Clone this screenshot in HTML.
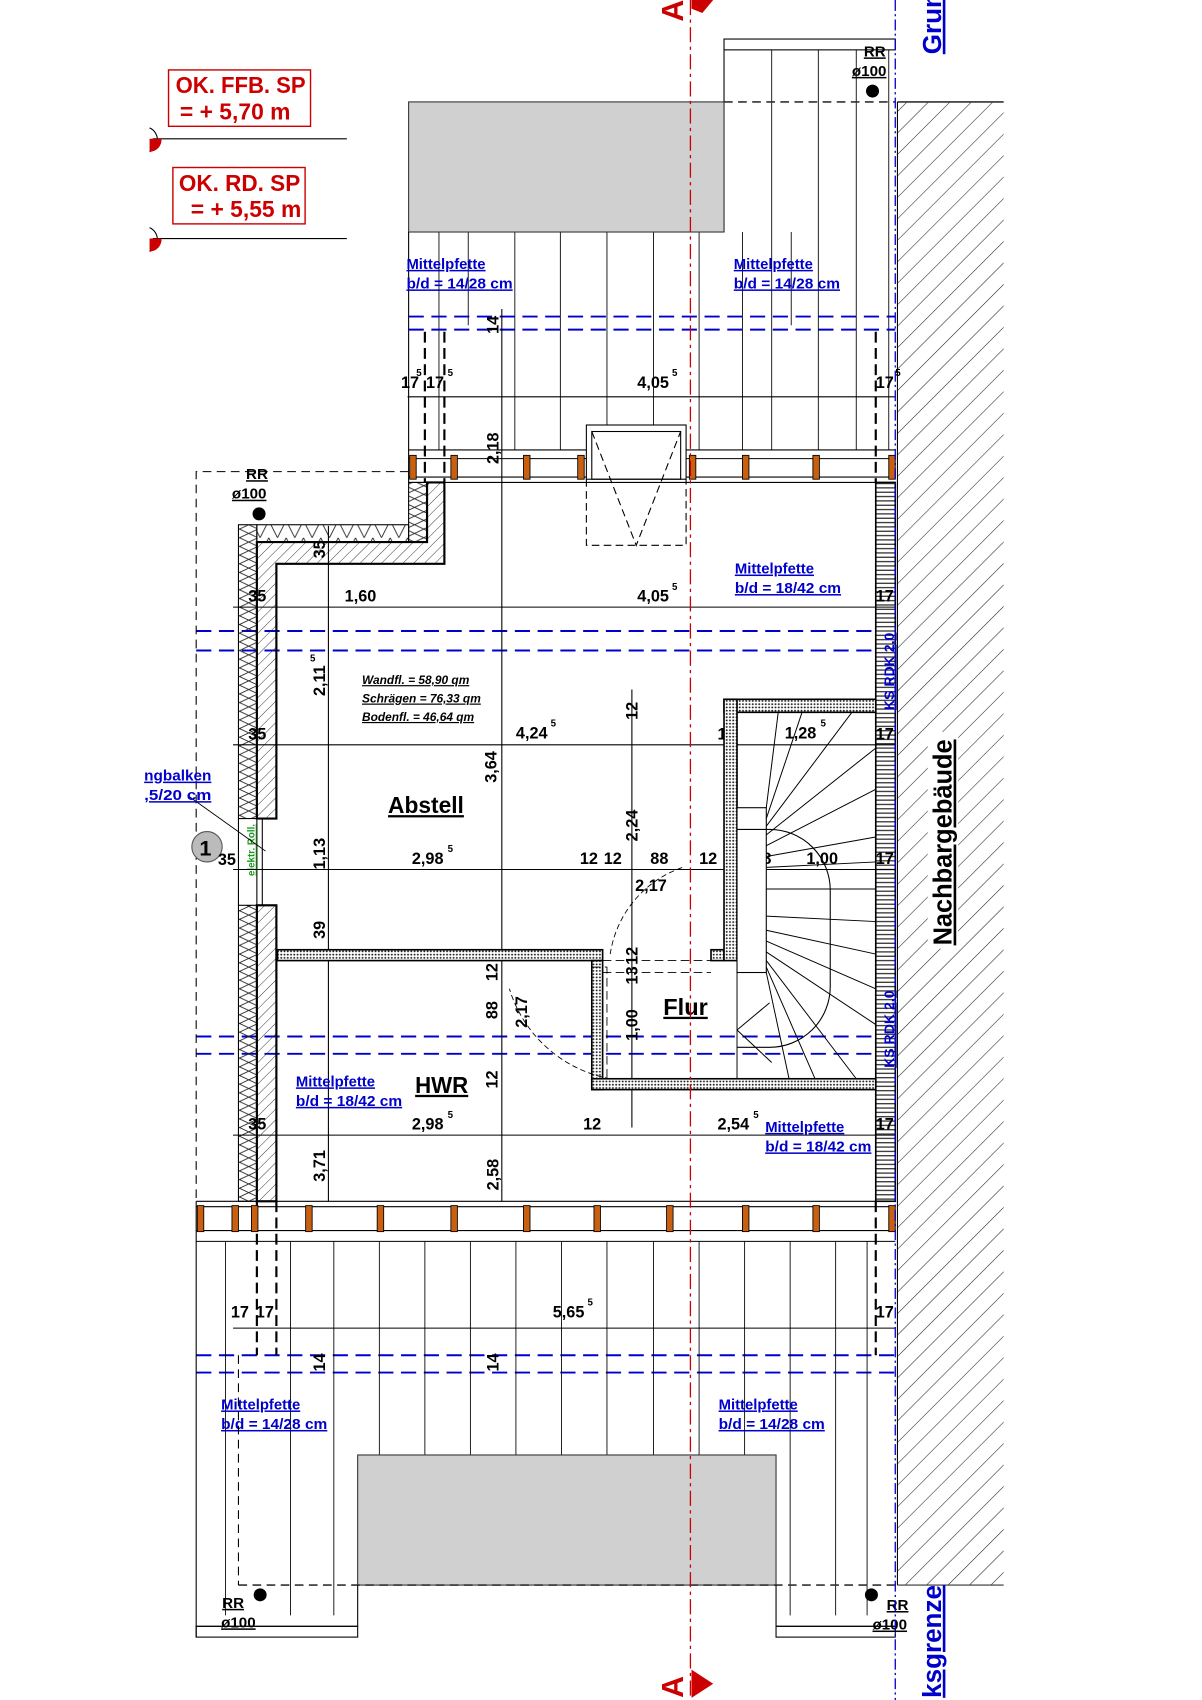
<!DOCTYPE html>
<html><head><meta charset="utf-8"><style>
html,body{margin:0;padding:0;background:#fff;}
svg{display:block}
text{font-family:"Liberation Sans Narrow","Liberation Sans",sans-serif;font-weight:bold;}
.d{font-size:15px;fill:#000}
.s{font-size:9px;fill:#000}
.b{font-size:14px;fill:#0000cc;text-decoration:underline}
</style></head><body>
<svg width="1202" height="1700" viewBox="0 0 1109 1568" preserveAspectRatio="none" xmlns="http://www.w3.org/2000/svg">
<defs>
<pattern id="h" width="14" height="14" patternUnits="userSpaceOnUse" patternTransform="rotate(45)"><line x1="0" y1="0" x2="0" y2="14" stroke="#222" stroke-width="1"/></pattern>
<pattern id="h2" width="7" height="7" patternUnits="userSpaceOnUse" patternTransform="rotate(45)"><line x1="0" y1="0" x2="0" y2="7" stroke="#222" stroke-width="0.8"/></pattern>
<pattern id="z" width="17" height="16" patternUnits="userSpaceOnUse"><path d="M0 0 L17 8 L0 16 M17 0 L0 8 L17 16" fill="none" stroke="#222" stroke-width="0.8"/></pattern>
<pattern id="zz" width="16" height="16" patternUnits="userSpaceOnUse"><path d="M0 16 L8 0 L16 16" fill="none" stroke="#222" stroke-width="0.8"/></pattern>
<pattern id="st" width="3" height="3" patternUnits="userSpaceOnUse"><rect width="3" height="3" fill="#fff"/><circle cx="1.5" cy="1.5" r="0.9" fill="#222"/></pattern>
<pattern id="lad" width="4" height="4" patternUnits="userSpaceOnUse"><rect width="4" height="4" fill="#fff"/><line x1="0" y1="2" x2="4" y2="2" stroke="#222" stroke-width="1.1"/></pattern>
</defs>
<rect width="1109" height="1568" fill="#fff"/>

<rect x="828" y="94" width="98" height="1368" fill="url(#h)"/>
<line x1="828" y1="94" x2="926" y2="94" stroke="#333" stroke-width="1.5"/>
<line x1="828" y1="1462" x2="926" y2="1462" stroke="#333" stroke-width="1"/>
<rect x="856" y="675" width="28" height="200" fill="#fff"/>
<text transform="translate(878,872) rotate(-90)" style="font-size:24px;text-decoration:underline" textLength="190" lengthAdjust="spacingAndGlyphs">Nachbargebäude</text>

<rect x="155.5" y="64.5" width="131" height="52" fill="none" stroke="#c00" stroke-width="1.3"/>
<text x="162" y="86" style="font-size:21px;fill:#c00" textLength="120" lengthAdjust="spacingAndGlyphs">OK. FFB. SP</text>
<text x="166" y="110" style="font-size:21px;fill:#c00" textLength="102" lengthAdjust="spacingAndGlyphs">= + 5,70 m</text>
<line x1="141" y1="128" x2="320" y2="128" stroke="#000"/>
<path d="M138 118 A12 12 0 0 1 138 140" fill="none" stroke="#000"/>
<path d="M138 128 L149 128 A11 11 0 0 1 138 140 Z" fill="#c00"/>
<rect x="159.5" y="154.5" width="122" height="52" fill="none" stroke="#c00" stroke-width="1.3"/>
<text x="165" y="176" style="font-size:21px;fill:#c00" textLength="112" lengthAdjust="spacingAndGlyphs">OK. RD. SP</text>
<text x="176" y="200" style="font-size:21px;fill:#c00" textLength="102" lengthAdjust="spacingAndGlyphs">= + 5,55 m</text>
<line x1="141" y1="220" x2="320" y2="220" stroke="#000"/>
<path d="M138 210 A12 12 0 0 1 138 232" fill="none" stroke="#000"/>
<path d="M138 220 L149 220 A11 11 0 0 1 138 232 Z" fill="#c00"/>

<rect x="668" y="36" width="158" height="10" fill="none" stroke="#000"/>
<line x1="668" y1="46" x2="668" y2="214" stroke="#000"/>
<g stroke="#000" stroke-width="0.8">
<line x1="712" y1="46" x2="712" y2="415"/><line x1="755" y1="46" x2="755" y2="415"/><line x1="790" y1="46" x2="790" y2="415"/><line x1="820" y1="46" x2="820" y2="415"/>
<line x1="405" y1="214" x2="405" y2="415"/><line x1="432" y1="214" x2="432" y2="300"/><line x1="475" y1="214" x2="475" y2="415"/><line x1="517" y1="214" x2="517" y2="415"/>
<line x1="560" y1="214" x2="560" y2="392"/><line x1="603" y1="214" x2="603" y2="392"/><line x1="645" y1="214" x2="645" y2="415"/><line x1="685" y1="214" x2="685" y2="415"/>
<line x1="730" y1="214" x2="730" y2="300"/>
</g>
<rect x="377" y="94" width="291" height="120" fill="#d0d0d0" stroke="#333"/>
<line x1="668" y1="94" x2="826" y2="94" stroke="#333" stroke-width="1.5" stroke-dasharray="8,5"/>
<line x1="377" y1="214" x2="377" y2="445" stroke="#000"/>
<circle cx="805" cy="84" r="6" fill="#000"/>
<text x="797" y="52" class="d" style="font-size:14px;text-decoration:underline">RR</text>
<text x="786" y="70" class="d" style="font-size:14px;text-decoration:underline">ø100</text>

<text x="375" y="248" class="b" textLength="73" lengthAdjust="spacingAndGlyphs">Mittelpfette</text><text x="375" y="266" class="b" textLength="98" lengthAdjust="spacingAndGlyphs">b/d = 14/28 cm</text>
<text x="677" y="248" class="b" textLength="73" lengthAdjust="spacingAndGlyphs">Mittelpfette</text><text x="677" y="266" class="b" textLength="98" lengthAdjust="spacingAndGlyphs">b/d = 14/28 cm</text>
<g stroke="#0000cc" stroke-width="1.8" stroke-dasharray="14,7">
<line x1="377" y1="292" x2="826" y2="292"/><line x1="377" y1="304" x2="826" y2="304"/>
<line x1="181" y1="582" x2="826" y2="582"/><line x1="181" y1="600" x2="826" y2="600"/>
<line x1="181" y1="956" x2="826" y2="956"/><line x1="181" y1="972" x2="826" y2="972"/>
<line x1="181" y1="1250" x2="826" y2="1250"/><line x1="181" y1="1266" x2="826" y2="1266"/>
</g>
<g stroke="#000" stroke-width="2" stroke-dasharray="10,5">
<line x1="392" y1="306" x2="392" y2="445"/><line x1="410" y1="306" x2="410" y2="445"/><line x1="808" y1="306" x2="808" y2="445"/>
<line x1="237" y1="1108" x2="237" y2="1250"/><line x1="255" y1="1108" x2="255" y2="1250"/><line x1="808" y1="1108" x2="808" y2="1250"/>
</g>
<line x1="376" y1="366" x2="826" y2="366" stroke="#000"/>
<text x="370" y="358" class="d">17</text><text x="393" y="358" class="d">17</text><text x="588" y="358" class="d">4,05</text><text x="620" y="347" class="s">5</text><text x="808" y="358" class="d">17</text>
<text x="384" y="347" class="s">5</text><text x="413" y="347" class="s">5</text><text x="826" y="347" class="s">5</text>
<line x1="463" y1="285" x2="463" y2="1108" stroke="#000"/>
<text transform="translate(460,308) rotate(-90)" class="d">14</text>
<text transform="translate(460,428) rotate(-90)" class="d">2,18</text>

<g stroke="#000" stroke-width="1"><line x1="377" y1="415" x2="826" y2="415"/><line x1="377" y1="423" x2="826" y2="423"/><line x1="377" y1="440" x2="826" y2="440"/><line x1="377" y1="445" x2="826" y2="445"/></g>
<g fill="#c86010" stroke="#000" stroke-width="0.8">
<rect x="378" y="420" width="6" height="22"/><rect x="416" y="420" width="6" height="22"/><rect x="483" y="420" width="6" height="22"/><rect x="533" y="420" width="6" height="22"/>
<rect x="636" y="420" width="6" height="22"/><rect x="685" y="420" width="6" height="22"/><rect x="750" y="420" width="6" height="22"/><rect x="820" y="420" width="6" height="22"/>
</g>
<rect x="541" y="392" width="92" height="50" fill="#fff" stroke="#000"/>
<rect x="546" y="398" width="82" height="44" fill="none" stroke="#000"/>
<path d="M541 442 V503 H633 V442 M546 398 L587 503 L628 398" fill="none" stroke="#000" stroke-dasharray="7,4"/>

<path d="M377 435 H181 V1108" fill="none" stroke="#000" stroke-dasharray="8,5"/>
<text x="227" y="442" class="d" style="font-size:14px;text-decoration:underline">RR</text>
<text x="214" y="460" class="d" style="font-size:14px;text-decoration:underline">ø100</text>
<circle cx="239" cy="474" r="6" fill="#000"/>

<rect x="220" y="484" width="17" height="271" fill="url(#z)" stroke="#000"/>
<rect x="237" y="484" width="140" height="16" fill="url(#zz)" stroke="#000"/>
<rect x="377" y="445" width="17" height="55" fill="url(#z)" stroke="#000"/>
<path d="M237 500 H394 V445 H410 V520 H255 V755 H237 Z" fill="url(#h2)" stroke="#000" stroke-width="2"/>
<rect x="220" y="835" width="17" height="273" fill="url(#z)" stroke="#000"/>
<rect x="237" y="835" width="18" height="273" fill="url(#h2)" stroke="#000" stroke-width="2"/>
<line x1="220" y1="755" x2="220" y2="835" stroke="#000"/><line x1="237" y1="755" x2="237" y2="835" stroke="#000"/><line x1="242" y1="755" x2="242" y2="835" stroke="#000"/>
<text transform="translate(235,808) rotate(-90)" style="font-size:9px;fill:#1a9a1a;text-decoration:underline">elektr. Roll.</text>
<line x1="175" y1="735" x2="245" y2="785" stroke="#000" stroke-width="0.8"/>
<text x="133" y="720" class="b" textLength="62" lengthAdjust="spacingAndGlyphs">ngbalken</text><text x="133" y="738" class="b" textLength="62" lengthAdjust="spacingAndGlyphs">,5/20 cm</text>
<circle cx="191" cy="781" r="14" fill="#bbb" stroke="#555"/>
<text x="184" y="789" class="d" style="font-size:20px">1</text>
<text x="201" y="798" class="d">35</text>

<rect x="808" y="445" width="18" height="663" fill="url(#lad)" stroke="#000" stroke-width="1.5"/>
<text transform="translate(825,655) rotate(-90)" class="b" style="font-size:13px">KS RDK 2,0</text>
<text transform="translate(825,985) rotate(-90)" class="b" style="font-size:13px">KS RDK 2,0</text>

<g stroke="#000" stroke-width="1">
<line x1="215" y1="560" x2="826" y2="560"/><line x1="215" y1="687" x2="826" y2="687"/><line x1="215" y1="802" x2="826" y2="802"/><line x1="215" y1="1047" x2="826" y2="1047"/><line x1="215" y1="1225" x2="826" y2="1225"/>
<line x1="303" y1="485" x2="303" y2="1108"/><line x1="583" y1="636" x2="583" y2="1040"/>
</g>
<text x="229" y="555" class="d">35</text><text x="318" y="555" class="d">1,60</text><text x="588" y="555" class="d">4,05</text><text x="620" y="544" class="s">5</text><text x="808" y="555" class="d">17</text>
<text transform="translate(300,515) rotate(-90)" class="d">35</text>
<text transform="translate(300,642) rotate(-90)" class="d">2,11</text><text x="286" y="610" class="s">5</text>
<text x="229" y="682" class="d">35</text>
<text x="334" y="631" style="font-size:11px;font-style:italic;text-decoration:underline">Wandfl. = 58,90 qm</text>
<text x="334" y="648" style="font-size:11px;font-style:italic;text-decoration:underline">Schrägen = 76,33 qm</text>
<text x="334" y="665" style="font-size:11px;font-style:italic;text-decoration:underline">Bodenfl. = 46,64 qm</text>
<text x="476" y="681" class="d">4,24</text><text x="508" y="670" class="s">5</text>
<text transform="translate(458,722) rotate(-90)" class="d">3,64</text>
<text transform="translate(588,664) rotate(-90)" class="d">12</text>
<text transform="translate(588,776) rotate(-90)" class="d">2,24</text>
<text x="358" y="750" style="font-size:21px;text-decoration:underline" textLength="70" lengthAdjust="spacingAndGlyphs">Abstell</text>
<text transform="translate(300,802) rotate(-90)" class="d">1,13</text>
<text x="380" y="797" class="d">2,98</text><text x="413" y="786" class="s">5</text>
<text x="535" y="797" class="d">12</text><text x="557" y="797" class="d">12</text><text x="600" y="797" class="d">88</text><text x="586" y="822" class="d">2,17</text>
<text x="645" y="797" class="d">12</text><text x="667" y="797" class="d">12</text><text x="695" y="797" class="d">28</text><text x="744" y="797" class="d">1,00</text><text x="808" y="797" class="d">17</text>
<text x="662" y="682" class="d">12</text><text x="724" y="681" class="d">1,28</text><text x="757" y="670" class="s">5</text><text x="808" y="682" class="d">17</text>

<rect x="256" y="876" width="300" height="10" fill="url(#st)" stroke="#000" stroke-width="1.5"/>
<rect x="546" y="886" width="10" height="119" fill="url(#st)" stroke="#000" stroke-width="1.5"/>
<rect x="546" y="995" width="262" height="10" fill="url(#st)" stroke="#000" stroke-width="1.5"/>
<rect x="656" y="876" width="12" height="10" fill="url(#st)" stroke="#000" stroke-width="1.5"/>
<path d="M546 892 H560 V995 M556 886 H656 M556 897 H656" fill="none" stroke="#000" stroke-width="0.8" stroke-dasharray="8,4"/>
<path d="M563 995 A120 120 0 0 1 470 912" fill="none" stroke="#000" stroke-width="0.8" stroke-dasharray="5,3"/>
<path d="M563 880 A100 100 0 0 1 630 800" fill="none" stroke="#000" stroke-width="0.8" stroke-dasharray="5,3"/>
<text transform="translate(300,866) rotate(-90)" class="d">39</text>
<text transform="translate(459,905) rotate(-90)" class="d">12</text>
<text transform="translate(459,940) rotate(-90)" class="d">88</text>
<text transform="translate(486,948) rotate(-90)" class="d">2,17</text>
<text transform="translate(459,1004) rotate(-90)" class="d">12</text>
<text transform="translate(588,890) rotate(-90)" class="d">12</text>
<text transform="translate(588,908) rotate(-90)" class="d">13</text>
<text transform="translate(588,960) rotate(-90)" class="d">1,00</text>
<text x="612" y="936" style="font-size:21px;text-decoration:underline" textLength="41" lengthAdjust="spacingAndGlyphs">Flur</text>
<text x="383" y="1008" style="font-size:21px;text-decoration:underline" textLength="49" lengthAdjust="spacingAndGlyphs">HWR</text>
<text x="273" y="1002" class="b" textLength="73" lengthAdjust="spacingAndGlyphs">Mittelpfette</text><text x="273" y="1020" class="b" textLength="98" lengthAdjust="spacingAndGlyphs">b/d = 18/42 cm</text>
<text x="678" y="529" class="b" textLength="73" lengthAdjust="spacingAndGlyphs">Mittelpfette</text><text x="678" y="547" class="b" textLength="98" lengthAdjust="spacingAndGlyphs">b/d = 18/42 cm</text>
<text x="706" y="1044" class="b" textLength="73" lengthAdjust="spacingAndGlyphs">Mittelpfette</text><text x="706" y="1062" class="b" textLength="98" lengthAdjust="spacingAndGlyphs">b/d = 18/42 cm</text>
<text x="229" y="1042" class="d">35</text><text x="380" y="1042" class="d">2,98</text><text x="413" y="1031" class="s">5</text>
<text x="538" y="1042" class="d">12</text><text x="662" y="1042" class="d">2,54</text><text x="695" y="1031" class="s">5</text><text x="808" y="1042" class="d">17</text>
<text transform="translate(300,1090) rotate(-90)" class="d">3,71</text>
<text transform="translate(460,1098) rotate(-90)" class="d">2,58</text>

<rect x="668" y="645" width="140" height="12" fill="url(#st)" stroke="#000" stroke-width="1.5"/>
<rect x="668" y="645" width="12" height="241" fill="url(#st)" stroke="#000" stroke-width="1.5"/>
<rect x="680" y="745" width="27" height="152" fill="#fff" stroke="#000"/>
<path d="M680 765 H710 A56 56 0 0 1 766 821 V910 A56 56 0 0 1 710 966 H680" fill="none" stroke="#000"/>
<g stroke="#000" stroke-width="0.9">
<line x1="707" y1="745" x2="718" y2="657"/><line x1="707" y1="755" x2="740" y2="657"/><line x1="707" y1="762" x2="786" y2="657"/>
<line x1="707" y1="770" x2="808" y2="690"/><line x1="707" y1="780" x2="808" y2="728"/><line x1="707" y1="790" x2="808" y2="772"/>
<line x1="707" y1="800" x2="808" y2="795"/><line x1="707" y1="820" x2="808" y2="820"/><line x1="707" y1="845" x2="808" y2="850"/>
<line x1="707" y1="858" x2="808" y2="880"/><line x1="707" y1="868" x2="808" y2="912"/><line x1="707" y1="878" x2="808" y2="945"/>
<line x1="707" y1="886" x2="790" y2="995"/><line x1="707" y1="892" x2="752" y2="995"/><line x1="707" y1="897" x2="728" y2="995"/>
<line x1="680" y1="897" x2="680" y2="995"/><line x1="680" y1="950" x2="710" y2="925"/><line x1="680" y1="950" x2="712" y2="980"/>
</g>

<g stroke="#000" stroke-width="1"><line x1="181" y1="1108" x2="826" y2="1108"/><line x1="181" y1="1113" x2="826" y2="1113"/><line x1="181" y1="1135" x2="826" y2="1135"/><line x1="181" y1="1145" x2="826" y2="1145"/><line x1="181" y1="1108" x2="181" y2="1510"/></g>
<g fill="#c86010" stroke="#000" stroke-width="0.8">
<rect x="182" y="1112" width="6" height="24"/><rect x="214" y="1112" width="6" height="24"/><rect x="232" y="1112" width="6" height="24"/><rect x="282" y="1112" width="6" height="24"/>
<rect x="348" y="1112" width="6" height="24"/><rect x="416" y="1112" width="6" height="24"/><rect x="483" y="1112" width="6" height="24"/><rect x="548" y="1112" width="6" height="24"/>
<rect x="615" y="1112" width="6" height="24"/><rect x="685" y="1112" width="6" height="24"/><rect x="750" y="1112" width="6" height="24"/><rect x="820" y="1112" width="6" height="24"/>
</g>
<g stroke="#000" stroke-width="0.8">
<line x1="208" y1="1145" x2="208" y2="1490"/><line x1="268" y1="1145" x2="268" y2="1490"/><line x1="308" y1="1145" x2="308" y2="1490"/>
<line x1="350" y1="1145" x2="350" y2="1342"/><line x1="392" y1="1145" x2="392" y2="1342"/><line x1="434" y1="1145" x2="434" y2="1342"/>
<line x1="476" y1="1145" x2="476" y2="1342"/><line x1="518" y1="1145" x2="518" y2="1342"/><line x1="560" y1="1145" x2="560" y2="1342"/>
<line x1="603" y1="1145" x2="603" y2="1342"/><line x1="645" y1="1145" x2="645" y2="1342"/><line x1="687" y1="1145" x2="687" y2="1342"/>
<line x1="729" y1="1145" x2="729" y2="1490"/><line x1="771" y1="1145" x2="771" y2="1490"/><line x1="800" y1="1145" x2="800" y2="1490"/>
</g>
<text x="213" y="1215" class="d">17</text><text x="236" y="1215" class="d">17</text><text x="510" y="1215" class="d">5,65</text><text x="542" y="1204" class="s">5</text><text x="808" y="1215" class="d">17</text>
<text transform="translate(300,1265) rotate(-90)" class="d">14</text>
<text transform="translate(460,1265) rotate(-90)" class="d">14</text>
<text x="204" y="1300" class="b" textLength="73" lengthAdjust="spacingAndGlyphs">Mittelpfette</text><text x="204" y="1318" class="b" textLength="98" lengthAdjust="spacingAndGlyphs">b/d = 14/28 cm</text>
<text x="663" y="1300" class="b" textLength="73" lengthAdjust="spacingAndGlyphs">Mittelpfette</text><text x="663" y="1318" class="b" textLength="98" lengthAdjust="spacingAndGlyphs">b/d = 14/28 cm</text>
<rect x="330" y="1342" width="386" height="120" fill="#d0d0d0" stroke="#333"/>
<line x1="220" y1="1462" x2="828" y2="1462" stroke="#333" stroke-width="1.5" stroke-dasharray="8,5"/>
<line x1="220" y1="1250" x2="220" y2="1462" stroke="#000" stroke-dasharray="8,5"/>
<path d="M330 1462 V1500 M716 1462 V1500 M181 1500 H330 M716 1500 H826" fill="none" stroke="#000"/>
<rect x="181" y="1500" width="149" height="10" fill="none" stroke="#000"/>
<rect x="716" y="1500" width="110" height="10" fill="none" stroke="#000"/>
<circle cx="240" cy="1471" r="6" fill="#000"/><circle cx="804" cy="1471" r="6" fill="#000"/>
<text x="205" y="1483" class="d" style="font-size:14px;text-decoration:underline">RR</text>
<text x="204" y="1501" class="d" style="font-size:14px;text-decoration:underline">ø100</text>
<text x="818" y="1485" class="d" style="font-size:14px;text-decoration:underline">RR</text>
<text x="805" y="1503" class="d" style="font-size:14px;text-decoration:underline">ø100</text>

<line x1="637" y1="0" x2="637" y2="1568" stroke="#c00" stroke-width="1.2" stroke-dasharray="14,4,3,4"/>
<text transform="translate(630,20) rotate(-90)" style="font-size:28px;fill:#c00">A</text>
<path d="M638 0 L658 0 L648 12 L638 8 Z" fill="#c00"/>
<text transform="translate(630,1566) rotate(-90)" style="font-size:28px;fill:#c00">A</text>
<path d="M638 1540 L658 1553 L638 1566 Z" fill="#c00"/>

<line x1="826" y1="0" x2="826" y2="1568" stroke="#0000cc" stroke-width="1.2" stroke-dasharray="10,3,2,3"/>
<line x1="828" y1="94" x2="828" y2="1462" stroke="#000" stroke-width="1"/>
<text transform="translate(868,50) rotate(-90)" style="font-size:24px;fill:#0000cc;text-decoration:underline;font-family:'Liberation Sans',sans-serif">Grun</text>
<text transform="translate(868,1566) rotate(-90)" style="font-size:24px;fill:#0000cc;text-decoration:underline;font-family:'Liberation Sans',sans-serif">ksgrenze</text>
</svg>
</body></html>
